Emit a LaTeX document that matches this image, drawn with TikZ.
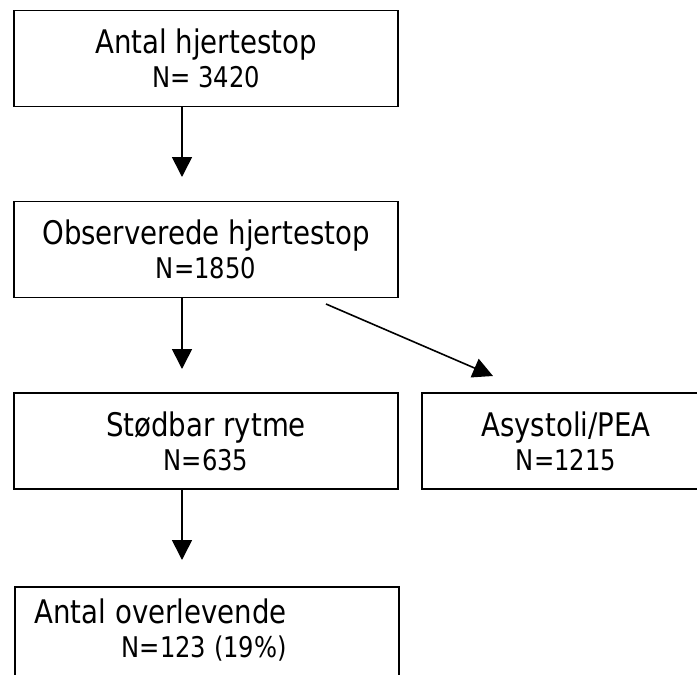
\documentclass[tikz,border=0pt]{standalone}
\usepackage{fontspec}
\setmainfont{DejaVu Sans}[FakeStretch=0.85]
\usepackage{tikz}
\usetikzlibrary{arrows.meta,positioning,calc}
\newcommand{\headfont}{\fontsize{32.5}{34}\selectfont}
\newcommand{\countfont}{\fontsize{28.5}{34}\selectfont}

\begin{document}
\begin{tikzpicture}[x=1pt, y=-1pt,
    box/.style={rectangle, draw=black, line width=1.8pt, minimum width=384pt,
                minimum height=96pt, inner sep=0pt, align=center, font=\headfont},
    arr/.style={-{Triangle[length=20pt, width=20pt]}, line width=1.6pt}]

    \useasboundingbox (0,0) rectangle (697,675);
    \clip (0,0) rectangle (697,675);

    % Flow boxes
    \node[box] (total) at (206,58.5) {Antal hjertestop\\{\countfont N= 3420}};
    \node[box] (obs) at (206,249.5) {Observerede hjertestop\\{\countfont N=1850}};
    \node[box] (shock) at (206,441) {Stødbar rytme\\{\countfont N=635}};
    \node[box, minimum width=288pt] (asys) at (566,441) {Asystoli/PEA\\{\countfont N=1215}};
    \node[box, minimum height=120pt, anchor=north west] (surv) at (14,586) {};
    \node[font=\headfont, align=right, anchor=north east, inner sep=0pt]
      (survtxt) at (287,599) {Antal overlevende\\{\countfont N=123 (19\%)}};

    % Arrow ends
    \coordinate (t1) at (182,177);
    \coordinate (t2) at (182,369);
    \coordinate (t3) at (182,560);
    \coordinate (d0) at (326,304);
    \coordinate (d1) at (493,376);

    % Arrows
    \draw[arr] (total.south -| t1) -- (t1);
    \draw[arr] (obs.south -| t2) -- (t2);
    \draw[arr] (d0) -- (d1);
    \draw[arr] (shock.south -| t3) -- (t3);

\end{tikzpicture}
\end{document}
